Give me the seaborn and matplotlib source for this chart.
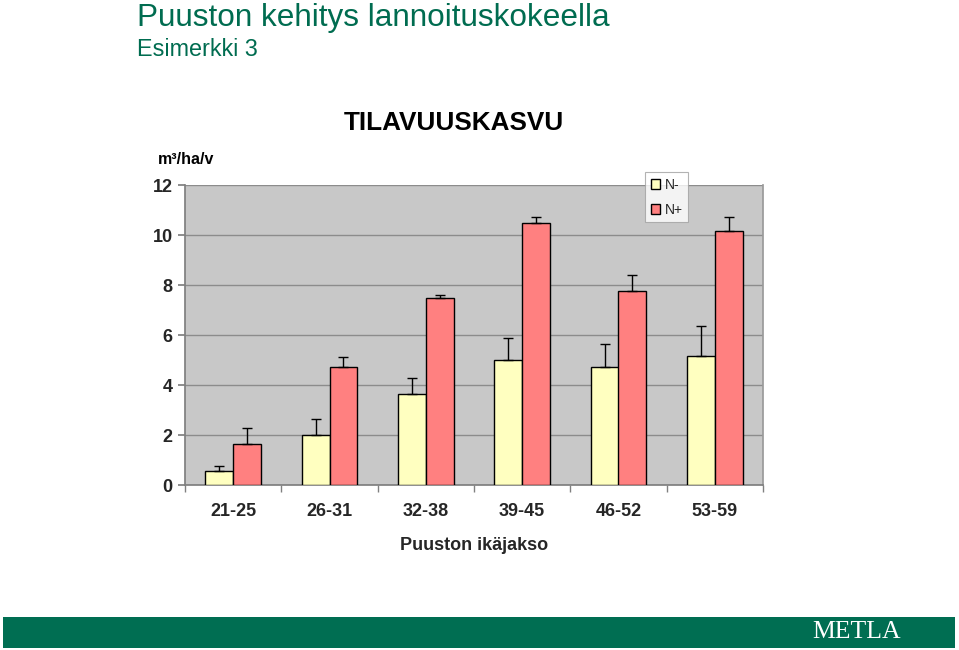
import matplotlib
matplotlib.use("Agg")
import matplotlib.pyplot as plt
import seaborn as sns
import pandas as pd
import numpy as np
from matplotlib.patches import Rectangle

categories = ["21-25", "26-31", "32-38", "39-45", "46-52", "53-59"]
n_minus = [0.56, 2.0, 3.64, 5.0, 4.72, 5.16]
n_plus = [1.64, 4.72, 7.48, 10.48, 7.76, 10.16]
err_minus = [0.2, 0.64, 0.64, 0.88, 0.92, 1.2]
err_plus = [0.64, 0.4, 0.12, 0.24, 0.64, 0.56]
series = ["N-", "N+"]
yticks = [0, 2, 4, 6, 8, 10, 12]

sns.set_theme(style="white")
plt.rcParams['font.family'] = ['Liberation Sans', 'DejaVu Sans']

df = pd.DataFrame({
    "cat": categories * 2,
    "series": [series[0]] * 6 + [series[1]] * 6,
    "value": n_minus + n_plus,
})

fig = plt.figure(figsize=(9.59, 6.5), dpi=100)
ax = fig.add_axes([185/959, 1-485/650, (763-185)/959, 300/650])
ax.set_facecolor("#c8c8c8")

sns.barplot(data=df, x="cat", y="value", hue="series", order=categories,
            hue_order=series, palette={"N-": "#ffffc0", "N+": "#ff8080"},
            saturation=1, width=0.58, edgecolor="black", linewidth=1.0,
            errorbar=None, ax=ax, zorder=3, legend=True)

errs = {"N-": err_minus, "N+": err_plus}
for cont, s in zip(ax.containers, series):
    xs = [p.get_x() + p.get_width()/2 for p in cont.patches]
    hs = [p.get_height() for p in cont.patches]
    e = errs[s]
    ax.errorbar(xs, hs, yerr=[np.zeros(len(e)), e], fmt="none", ecolor="black",
                elinewidth=1.0, capsize=3.5, capthick=1.0, zorder=4)

ax.set_ylim(0, 12)
ax.set_xlim(-0.5, 5.5)
ax.set_yticks(yticks)
ax.yaxis.grid(True, color="#8c8c8c", linewidth=1.0, zorder=0)
ax.set_axisbelow(True)
ax.spines["top"].set_visible(False)
ax.spines["right"].set_color("#9a9a9a")
ax.spines["left"].set_color("#808080")
ax.spines["bottom"].set_color("#808080")
ax.tick_params(axis="y", left=True, length=5, color="#808080", labelsize=13, pad=4)
ax.set_xticks(np.arange(6))
ax.set_xticklabels(categories)
ax.tick_params(axis="x", bottom=False, labelsize=13, pad=7)
ax.set_xticks(np.arange(-0.5, 6, 1), minor=True)
ax.tick_params(axis="x", which="minor", bottom=True, length=5, color="#808080")
for lab in ax.get_xticklabels() + ax.get_yticklabels():
    lab.set_fontweight("bold")
ax.set_xlabel("Puuston ikäjakso", fontsize=13, fontweight="bold", labelpad=12)
ax.set_ylabel("")

leg = ax.legend(loc="upper left", bbox_to_anchor=((645-185)/578, 1+13/300),
                frameon=True, fontsize=10, handlelength=0.7, handleheight=0.7,
                handletextpad=0.3, borderpad=0.4, labelspacing=0.8,
                fancybox=False, borderaxespad=0)
leg.get_frame().set_edgecolor("#a0a0a0")
leg.get_frame().set_facecolor("white")
leg.get_frame().set_linewidth(0.8)

fig.text(137/959, 1-18/650, "Puuston kehitys lannoituskokeella", color="#006c50",
         fontsize=22.7, ha="left", va="center")
fig.text(137/959, 1-50/650, "Esimerkki 3", color="#006c50",
         fontsize=16.8, ha="left", va="center")
fig.text(454/959, 1-123/650, "TILAVUUSKASVU", color="black",
         fontsize=18.8, fontweight="bold", ha="center", va="center")
fig.text(158/959, 1-160/650, "m³/ha/v", color="black",
         fontsize=11.5, fontweight="bold", ha="left", va="center")

fig.patches.append(Rectangle((3/959, 2/650), 952/959, 31/650, transform=fig.transFigure,
                             facecolor="#006e52", edgecolor="none"))
fig.text(857/959, 1-632/650, "METLA", color="white", fontsize=18.5,
         family="Liberation Serif", ha="center", va="center")

fig.savefig("out.png", dpi=100)
